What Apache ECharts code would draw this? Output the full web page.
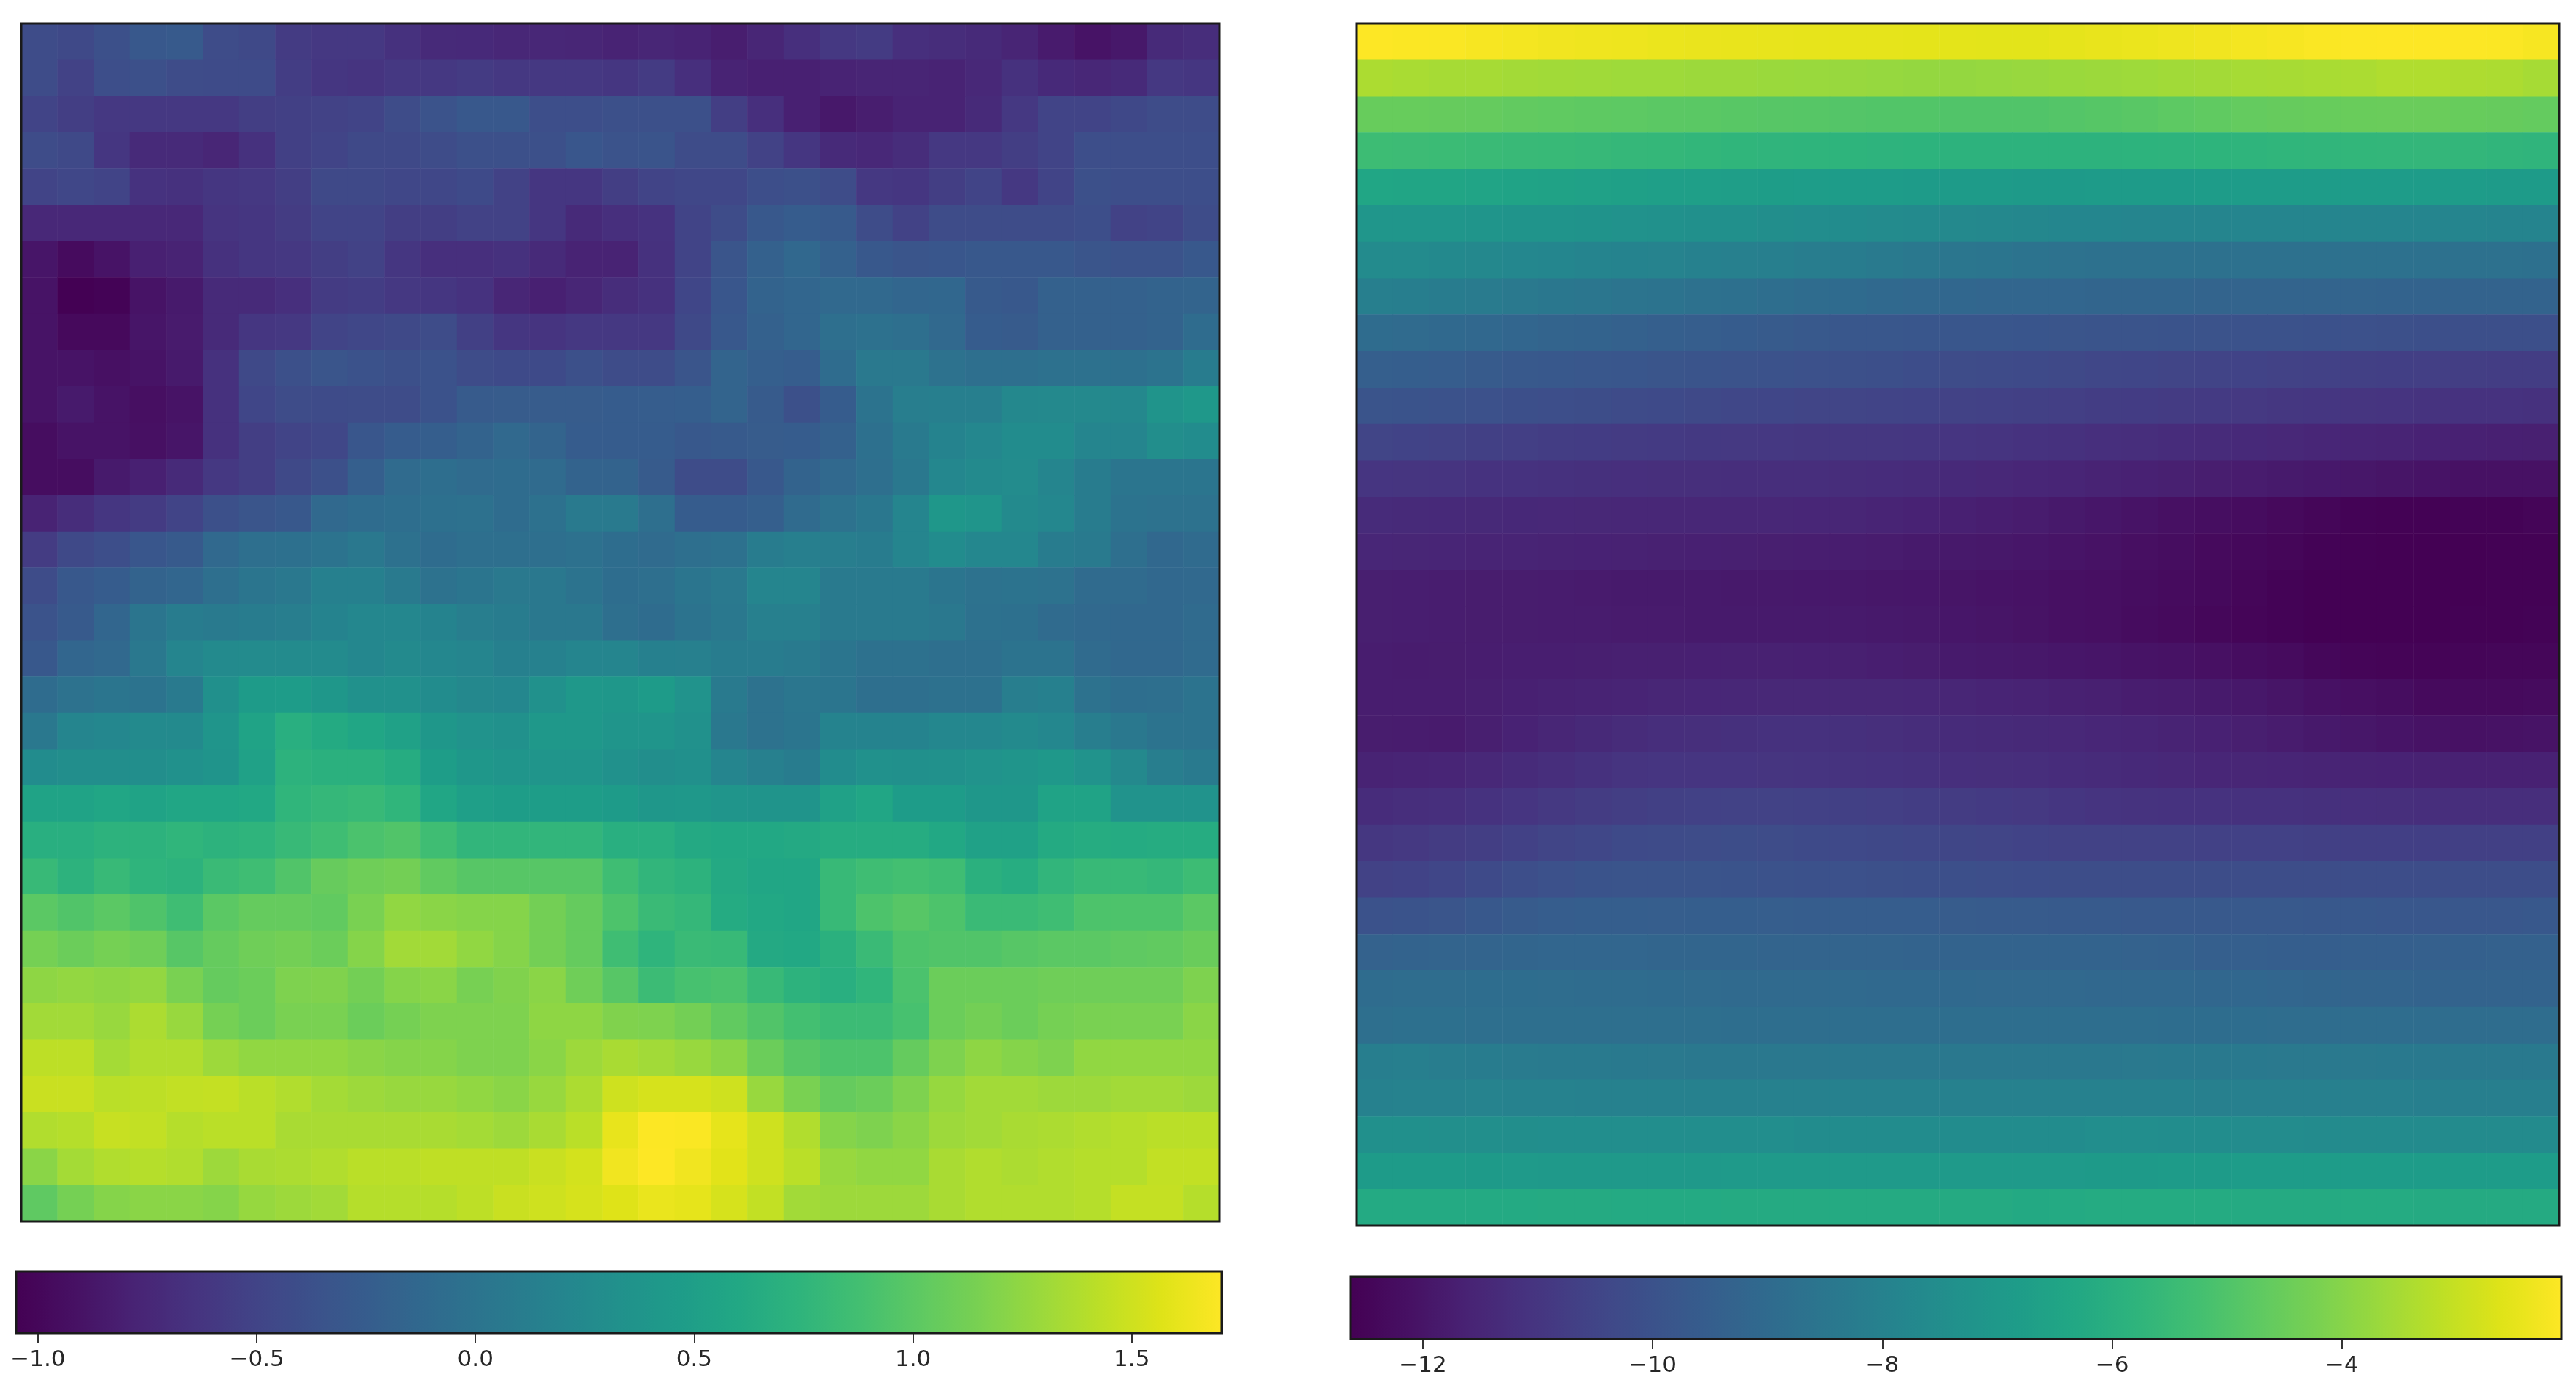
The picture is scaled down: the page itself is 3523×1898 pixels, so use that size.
<!DOCTYPE html>
<html>
<head>
<meta charset="utf-8">
<style>html,body{margin:0;padding:0;background:#fff}#chart{width:3523px;height:1898px}</style>
<script src="https://cdn.jsdelivr.net/npm/echarts@6/dist/echarts.min.js"></script>
</head>
<body>
<div id="chart"></div>
<script>
//===============!left panel, top row first=================
var leftRows = [
[-0.42,-0.45,-0.38,-0.30,-0.28,-0.42,-0.45,-0.58,-0.60,-0.60,-0.66,-0.72,-0.73,-0.75,-0.75,-0.76,-0.78,-0.76,-0.78,-0.82,-0.76,-0.68,-0.60,-0.58,-0.68,-0.70,-0.72,-0.77,-0.84,-0.90,-0.86,-0.72,-0.70],
[-0.42,-0.52,-0.40,-0.38,-0.42,-0.43,-0.43,-0.56,-0.62,-0.64,-0.60,-0.60,-0.58,-0.60,-0.60,-0.60,-0.62,-0.58,-0.68,-0.78,-0.80,-0.80,-0.78,-0.77,-0.77,-0.78,-0.74,-0.66,-0.73,-0.75,-0.72,-0.60,-0.62],
[-0.50,-0.55,-0.60,-0.60,-0.60,-0.60,-0.55,-0.53,-0.52,-0.50,-0.42,-0.35,-0.30,-0.30,-0.40,-0.40,-0.38,-0.38,-0.38,-0.55,-0.68,-0.80,-0.86,-0.82,-0.78,-0.78,-0.72,-0.60,-0.50,-0.50,-0.46,-0.42,-0.42],
[-0.42,-0.45,-0.62,-0.72,-0.72,-0.76,-0.66,-0.53,-0.50,-0.45,-0.45,-0.42,-0.38,-0.38,-0.38,-0.32,-0.35,-0.34,-0.42,-0.42,-0.52,-0.62,-0.72,-0.74,-0.70,-0.60,-0.60,-0.55,-0.50,-0.40,-0.40,-0.40,-0.40],
[-0.50,-0.47,-0.50,-0.65,-0.66,-0.62,-0.60,-0.55,-0.45,-0.45,-0.47,-0.47,-0.44,-0.52,-0.62,-0.62,-0.55,-0.50,-0.47,-0.47,-0.40,-0.38,-0.42,-0.60,-0.62,-0.55,-0.50,-0.60,-0.50,-0.38,-0.40,-0.40,-0.40],
[-0.74,-0.74,-0.74,-0.74,-0.74,-0.64,-0.62,-0.57,-0.50,-0.50,-0.55,-0.55,-0.52,-0.52,-0.62,-0.72,-0.68,-0.65,-0.50,-0.42,-0.30,-0.25,-0.28,-0.42,-0.52,-0.42,-0.42,-0.42,-0.42,-0.40,-0.52,-0.50,-0.42],
[-0.88,-0.96,-0.90,-0.80,-0.78,-0.66,-0.62,-0.60,-0.55,-0.52,-0.62,-0.68,-0.68,-0.66,-0.72,-0.78,-0.78,-0.66,-0.50,-0.33,-0.20,-0.13,-0.20,-0.30,-0.33,-0.32,-0.30,-0.30,-0.30,-0.33,-0.35,-0.35,-0.30],
[-0.90,-1.05,-1.03,-0.90,-0.85,-0.72,-0.72,-0.68,-0.58,-0.56,-0.60,-0.62,-0.65,-0.76,-0.80,-0.76,-0.70,-0.66,-0.48,-0.32,-0.18,-0.15,-0.12,-0.12,-0.15,-0.14,-0.28,-0.30,-0.20,-0.20,-0.20,-0.18,-0.17],
[-0.90,-0.98,-0.98,-0.88,-0.84,-0.72,-0.62,-0.60,-0.50,-0.47,-0.45,-0.42,-0.53,-0.62,-0.64,-0.60,-0.60,-0.60,-0.45,-0.30,-0.20,-0.15,-0.05,-0.03,-0.05,-0.12,-0.25,-0.27,-0.20,-0.20,-0.20,-0.18,-0.08],
[-0.90,-0.90,-0.92,-0.90,-0.85,-0.66,-0.45,-0.38,-0.33,-0.36,-0.38,-0.36,-0.42,-0.44,-0.44,-0.38,-0.42,-0.42,-0.33,-0.17,-0.22,-0.24,-0.08,0.06,0.06,-0.02,-0.05,-0.05,-0.03,-0.03,-0.04,0.00,0.10],
[-0.90,-0.85,-0.90,-0.93,-0.90,-0.66,-0.48,-0.42,-0.43,-0.42,-0.42,-0.36,-0.27,-0.26,-0.26,-0.26,-0.25,-0.24,-0.23,-0.17,-0.27,-0.38,-0.25,0.00,0.12,0.13,0.13,0.23,0.24,0.24,0.23,0.36,0.42],
[-0.95,-0.90,-0.90,-0.92,-0.88,-0.66,-0.55,-0.50,-0.47,-0.32,-0.25,-0.23,-0.18,-0.12,-0.17,-0.25,-0.25,-0.25,-0.30,-0.28,-0.26,-0.25,-0.20,-0.04,0.08,0.18,0.22,0.28,0.28,0.20,0.20,0.30,0.28],
[-0.95,-0.95,-0.85,-0.80,-0.72,-0.60,-0.55,-0.45,-0.38,-0.22,-0.10,-0.06,-0.10,-0.08,-0.10,-0.18,-0.18,-0.27,-0.42,-0.42,-0.30,-0.18,-0.12,-0.05,0.05,0.22,0.25,0.27,0.20,0.10,0.02,0.02,0.02],
[-0.78,-0.70,-0.62,-0.58,-0.50,-0.38,-0.33,-0.30,-0.12,-0.08,-0.06,-0.04,-0.03,-0.08,-0.03,0.08,0.08,-0.05,-0.25,-0.25,-0.22,-0.10,-0.02,0.04,0.20,0.40,0.38,0.25,0.22,0.10,0.00,-0.02,-0.02],
[-0.57,-0.45,-0.40,-0.32,-0.28,-0.12,-0.05,-0.04,0.00,0.05,-0.03,-0.08,-0.05,-0.05,-0.05,-0.03,-0.07,-0.10,-0.05,-0.03,0.10,0.13,0.12,0.10,0.20,0.28,0.22,0.22,0.10,0.08,-0.05,-0.13,-0.10],
[-0.42,-0.30,-0.25,-0.18,-0.15,-0.05,0.02,0.05,0.15,0.15,0.08,-0.02,0.02,0.06,0.05,0.00,-0.07,-0.05,0.02,0.06,0.20,0.20,0.08,0.08,0.08,0.02,-0.02,0.00,-0.02,-0.10,-0.10,-0.13,-0.12],
[-0.35,-0.28,-0.15,0.02,0.10,0.08,0.10,0.12,0.18,0.22,0.22,0.18,0.12,0.10,0.05,0.05,-0.05,-0.08,0.00,0.05,0.14,0.14,0.08,0.08,0.08,0.05,-0.03,-0.04,-0.10,-0.12,-0.13,-0.13,-0.10],
[-0.30,-0.15,-0.12,0.05,0.20,0.25,0.26,0.26,0.26,0.22,0.25,0.22,0.20,0.15,0.16,0.20,0.20,0.15,0.14,0.10,0.10,0.08,0.02,-0.03,-0.03,-0.05,-0.05,0.00,0.00,-0.10,-0.13,-0.13,-0.10],
[-0.08,-0.02,0.02,0.00,0.08,0.32,0.45,0.47,0.40,0.33,0.33,0.28,0.23,0.22,0.33,0.42,0.40,0.45,0.35,0.08,-0.02,0.03,0.02,-0.05,-0.05,-0.03,-0.03,0.12,0.15,-0.02,-0.06,-0.05,0.00],
[0.05,0.20,0.22,0.25,0.25,0.38,0.55,0.68,0.63,0.58,0.52,0.40,0.35,0.33,0.42,0.42,0.38,0.38,0.33,0.05,-0.02,0.02,0.18,0.18,0.18,0.22,0.22,0.25,0.22,0.12,0.05,0.00,0.00],
[0.28,0.30,0.30,0.30,0.33,0.37,0.52,0.72,0.70,0.70,0.65,0.48,0.40,0.38,0.38,0.38,0.33,0.30,0.32,0.20,0.14,0.10,0.28,0.33,0.32,0.33,0.35,0.38,0.42,0.35,0.24,0.12,0.08],
[0.55,0.55,0.58,0.55,0.58,0.58,0.60,0.75,0.78,0.80,0.75,0.58,0.50,0.48,0.48,0.48,0.45,0.40,0.42,0.38,0.36,0.36,0.52,0.58,0.47,0.47,0.40,0.40,0.55,0.55,0.35,0.35,0.35],
[0.68,0.68,0.72,0.72,0.75,0.72,0.74,0.80,0.85,0.92,0.95,0.85,0.76,0.76,0.76,0.76,0.68,0.68,0.62,0.60,0.60,0.62,0.65,0.65,0.65,0.60,0.52,0.52,0.63,0.65,0.64,0.65,0.65],
[0.80,0.72,0.80,0.74,0.72,0.82,0.85,0.95,1.06,1.10,1.12,1.03,0.98,0.98,0.98,0.98,0.85,0.76,0.72,0.62,0.58,0.58,0.80,0.85,0.88,0.85,0.70,0.66,0.76,0.80,0.80,0.78,0.84],
[1.00,0.95,1.00,0.94,0.85,1.00,1.05,1.05,1.03,1.15,1.25,1.22,1.20,1.20,1.12,1.05,0.93,0.82,0.78,0.64,0.60,0.58,0.80,0.93,0.98,0.93,0.82,0.82,0.85,0.93,0.93,0.93,1.00],
[1.13,1.08,1.13,1.10,0.98,1.05,1.10,1.12,1.08,1.20,1.32,1.32,1.25,1.20,1.12,1.05,0.85,0.74,0.82,0.80,0.62,0.60,0.70,0.82,0.93,0.95,0.95,0.98,1.00,1.00,1.02,1.03,1.07],
[1.24,1.26,1.24,1.26,1.15,1.05,1.08,1.17,1.18,1.12,1.20,1.22,1.14,1.18,1.22,1.10,0.98,0.83,0.90,0.92,0.80,0.72,0.68,0.75,0.92,1.08,1.08,1.08,1.10,1.10,1.10,1.10,1.17],
[1.32,1.32,1.28,1.36,1.28,1.13,1.08,1.15,1.15,1.08,1.13,1.17,1.17,1.17,1.24,1.24,1.18,1.17,1.12,1.03,0.95,0.88,0.83,0.83,0.90,1.08,1.12,1.08,1.13,1.15,1.15,1.15,1.22],
[1.43,1.43,1.33,1.38,1.38,1.30,1.25,1.25,1.25,1.22,1.20,1.20,1.17,1.17,1.22,1.30,1.35,1.32,1.28,1.22,1.08,0.98,0.93,0.93,1.05,1.17,1.24,1.20,1.17,1.25,1.25,1.25,1.25],
[1.48,1.48,1.42,1.43,1.45,1.46,1.42,1.38,1.33,1.30,1.28,1.28,1.25,1.22,1.28,1.36,1.50,1.53,1.53,1.50,1.28,1.15,1.05,1.08,1.17,1.27,1.32,1.32,1.30,1.30,1.32,1.32,1.30],
[1.38,1.40,1.47,1.45,1.40,1.42,1.42,1.35,1.35,1.35,1.35,1.35,1.33,1.30,1.35,1.42,1.61,1.70,1.69,1.60,1.50,1.38,1.20,1.17,1.22,1.30,1.32,1.35,1.36,1.38,1.40,1.42,1.42],
[1.22,1.33,1.38,1.40,1.38,1.30,1.35,1.36,1.38,1.42,1.42,1.44,1.44,1.44,1.48,1.52,1.65,1.71,1.65,1.58,1.50,1.42,1.28,1.25,1.25,1.35,1.38,1.36,1.38,1.40,1.40,1.45,1.45],
[1.02,1.13,1.20,1.22,1.22,1.20,1.27,1.30,1.32,1.40,1.40,1.40,1.43,1.48,1.50,1.53,1.57,1.62,1.60,1.53,1.45,1.32,1.30,1.30,1.30,1.35,1.38,1.38,1.38,1.40,1.46,1.46,1.40]
];
//===============!right panel, top row first=================
var rightRows = [
[-2.09,-2.12,-2.15,-2.20,-2.25,-2.30,-2.33,-2.36,-2.40,-2.42,-2.44,-2.46,-2.48,-2.50,-2.50,-2.52,-2.53,-2.55,-2.54,-2.50,-2.45,-2.40,-2.35,-2.30,-2.25,-2.20,-2.15,-2.10,-2.09,-2.09,-2.10,-2.12,-2.20],
[-3.40,-3.45,-3.50,-3.50,-3.55,-3.58,-3.60,-3.62,-3.62,-3.65,-3.65,-3.68,-3.70,-3.72,-3.75,-3.78,-3.78,-3.75,-3.72,-3.68,-3.65,-3.62,-3.58,-3.55,-3.50,-3.48,-3.45,-3.42,-3.35,-3.35,-3.38,-3.40,-3.50],
[-4.55,-4.55,-4.58,-4.60,-4.65,-4.68,-4.72,-4.75,-4.78,-4.80,-4.84,-4.86,-4.88,-4.92,-4.95,-4.95,-4.97,-4.98,-4.98,-4.92,-4.88,-4.82,-4.75,-4.68,-4.62,-4.58,-4.55,-4.52,-4.50,-4.50,-4.55,-4.58,-4.62],
[-5.40,-5.42,-5.45,-5.48,-5.52,-5.55,-5.58,-5.62,-5.65,-5.70,-5.74,-5.76,-5.78,-5.80,-5.82,-5.84,-5.85,-5.86,-5.86,-5.86,-5.85,-5.84,-5.82,-5.80,-5.78,-5.75,-5.72,-5.70,-5.68,-5.66,-5.68,-5.72,-5.76],
[-6.40,-6.42,-6.45,-6.48,-6.52,-6.55,-6.60,-6.65,-6.68,-6.72,-6.75,-6.78,-6.80,-6.82,-6.85,-6.86,-6.88,-6.90,-6.92,-6.92,-6.90,-6.88,-6.86,-6.85,-6.85,-6.85,-6.85,-6.85,-6.85,-6.85,-6.85,-6.87,-6.90],
[-7.10,-7.10,-7.12,-7.15,-7.20,-7.22,-7.25,-7.30,-7.35,-7.40,-7.42,-7.48,-7.52,-7.55,-7.60,-7.65,-7.70,-7.72,-7.75,-7.80,-7.82,-7.85,-7.85,-7.85,-7.85,-7.85,-7.85,-7.85,-7.85,-7.85,-7.85,-7.88,-7.90],
[-7.60,-7.62,-7.68,-7.72,-7.78,-7.82,-7.88,-7.92,-7.95,-8.00,-8.05,-8.12,-8.18,-8.25,-8.32,-8.40,-8.48,-8.55,-8.62,-8.68,-8.72,-8.73,-8.73,-8.73,-8.73,-8.73,-8.73,-8.73,-8.73,-8.73,-8.73,-8.73,-8.75],
[-8.10,-8.15,-8.22,-8.30,-8.38,-8.45,-8.50,-8.58,-8.65,-8.72,-8.78,-8.85,-8.92,-8.98,-9.05,-9.10,-9.14,-9.18,-9.20,-9.20,-9.22,-9.22,-9.22,-9.25,-9.25,-9.28,-9.28,-9.28,-9.30,-9.30,-9.30,-9.30,-9.30],
[-8.94,-9.00,-9.05,-9.12,-9.18,-9.25,-9.30,-9.38,-9.45,-9.52,-9.58,-9.65,-9.72,-9.78,-9.80,-9.82,-9.82,-9.84,-9.86,-9.88,-9.90,-9.92,-9.94,-9.96,-9.98,-10.00,-10.02,-10.05,-10.08,-10.10,-10.10,-10.10,-10.12],
[-9.47,-9.50,-9.55,-9.62,-9.70,-9.75,-9.80,-9.84,-9.88,-9.92,-9.96,-10.00,-10.04,-10.08,-10.12,-10.18,-10.22,-10.26,-10.30,-10.35,-10.40,-10.45,-10.48,-10.52,-10.55,-10.60,-10.62,-10.65,-10.68,-10.70,-10.72,-10.74,-10.75],
[-9.90,-9.95,-10.00,-10.05,-10.10,-10.15,-10.20,-10.25,-10.30,-10.35,-10.40,-10.45,-10.48,-10.50,-10.52,-10.55,-10.58,-10.62,-10.66,-10.70,-10.74,-10.78,-10.82,-10.86,-10.90,-10.94,-10.98,-11.02,-11.05,-11.08,-11.10,-11.12,-11.15],
[-10.50,-10.55,-10.60,-10.65,-10.70,-10.75,-10.78,-10.82,-10.85,-10.88,-10.90,-10.92,-10.94,-10.95,-10.96,-10.98,-11.00,-11.05,-11.10,-11.15,-11.20,-11.25,-11.30,-11.35,-11.40,-11.45,-11.50,-11.55,-11.58,-11.62,-11.65,-11.68,-11.70],
[-11.00,-11.02,-11.05,-11.10,-11.12,-11.15,-11.18,-11.20,-11.22,-11.23,-11.24,-11.25,-11.25,-11.28,-11.30,-11.35,-11.40,-11.45,-11.50,-11.55,-11.60,-11.65,-11.70,-11.75,-11.80,-11.85,-11.90,-11.95,-12.00,-12.05,-12.10,-12.10,-12.10],
[-11.35,-11.38,-11.40,-11.42,-11.44,-11.45,-11.46,-11.47,-11.48,-11.48,-11.48,-11.48,-11.50,-11.52,-11.56,-11.62,-11.68,-11.74,-11.80,-11.88,-11.96,-12.05,-12.12,-12.20,-12.28,-12.36,-12.45,-12.55,-12.60,-12.60,-12.58,-12.55,-12.50],
[-11.50,-11.52,-11.54,-11.56,-11.58,-11.60,-11.62,-11.64,-11.66,-11.68,-11.70,-11.72,-11.74,-11.76,-11.80,-11.84,-11.88,-11.92,-11.96,-12.02,-12.08,-12.16,-12.24,-12.32,-12.40,-12.48,-12.55,-12.60,-12.62,-12.63,-12.62,-12.60,-12.60],
[-11.72,-11.74,-11.76,-11.78,-11.78,-11.80,-11.82,-11.84,-11.86,-11.86,-11.88,-11.88,-11.90,-11.92,-11.94,-11.96,-12.00,-12.04,-12.08,-12.12,-12.16,-12.22,-12.30,-12.38,-12.46,-12.55,-12.62,-12.63,-12.63,-12.63,-12.62,-12.60,-12.60],
[-11.72,-11.74,-11.76,-11.78,-11.78,-11.80,-11.80,-11.82,-11.82,-11.84,-11.84,-11.84,-11.85,-11.86,-11.88,-11.92,-11.96,-12.00,-12.06,-12.12,-12.18,-12.26,-12.34,-12.42,-12.50,-12.58,-12.62,-12.63,-12.63,-12.62,-12.60,-12.60,-12.58],
[-11.76,-11.80,-11.78,-11.76,-11.74,-11.74,-11.72,-11.70,-11.70,-11.68,-11.66,-11.66,-11.68,-11.70,-11.74,-11.78,-11.84,-11.88,-11.92,-11.96,-11.98,-12.04,-12.08,-12.14,-12.22,-12.30,-12.42,-12.50,-12.52,-12.52,-12.50,-12.48,-12.45],
[-11.76,-11.76,-11.76,-11.72,-11.68,-11.64,-11.60,-11.56,-11.52,-11.50,-11.48,-11.46,-11.46,-11.46,-11.46,-11.48,-11.52,-11.56,-11.60,-11.66,-11.70,-11.76,-11.80,-11.86,-11.92,-12.00,-12.10,-12.18,-12.25,-12.32,-12.35,-12.35,-12.30],
[-11.78,-11.80,-11.82,-11.72,-11.62,-11.52,-11.42,-11.32,-11.26,-11.22,-11.18,-11.16,-11.16,-11.18,-11.22,-11.28,-11.34,-11.38,-11.42,-11.45,-11.50,-11.55,-11.60,-11.65,-11.72,-11.80,-11.88,-11.95,-12.02,-12.08,-12.10,-12.08,-12.05],
[-11.60,-11.58,-11.55,-11.45,-11.35,-11.25,-11.15,-11.05,-11.00,-11.00,-11.00,-11.02,-11.05,-11.08,-11.10,-11.15,-11.20,-11.22,-11.25,-11.30,-11.35,-11.40,-11.45,-11.50,-11.52,-11.55,-11.58,-11.60,-11.62,-11.64,-11.65,-11.65,-11.65],
[-11.30,-11.25,-11.20,-11.10,-11.00,-10.90,-10.80,-10.72,-10.65,-10.62,-10.60,-10.60,-10.62,-10.66,-10.70,-10.75,-10.80,-10.85,-10.90,-10.98,-11.05,-11.08,-11.10,-11.12,-11.14,-11.15,-11.18,-11.20,-11.22,-11.24,-11.25,-11.25,-11.25],
[-10.95,-10.90,-10.80,-10.72,-10.62,-10.50,-10.40,-10.30,-10.25,-10.22,-10.20,-10.22,-10.28,-10.32,-10.36,-10.42,-10.46,-10.50,-10.55,-10.58,-10.60,-10.60,-10.60,-10.62,-10.62,-10.62,-10.65,-10.68,-10.68,-10.68,-10.66,-10.65,-10.65],
[-10.60,-10.55,-10.45,-10.30,-10.15,-10.05,-9.95,-9.90,-9.90,-9.92,-9.95,-10.00,-10.02,-10.05,-10.08,-10.10,-10.12,-10.15,-10.18,-10.20,-10.20,-10.20,-10.20,-10.20,-10.20,-10.20,-10.20,-10.20,-10.20,-10.20,-10.20,-10.20,-10.20],
[-10.00,-9.95,-9.88,-9.75,-9.65,-9.55,-9.50,-9.50,-9.52,-9.50,-9.50,-9.52,-9.55,-9.56,-9.56,-9.56,-9.60,-9.62,-9.64,-9.66,-9.68,-9.70,-9.70,-9.72,-9.72,-9.72,-9.74,-9.75,-9.78,-9.80,-9.80,-9.80,-9.75],
[-9.35,-9.30,-9.28,-9.25,-9.22,-9.20,-9.20,-9.20,-9.22,-9.22,-9.24,-9.25,-9.26,-9.28,-9.28,-9.30,-9.30,-9.30,-9.30,-9.30,-9.32,-9.35,-9.38,-9.45,-9.48,-9.50,-9.50,-9.48,-9.46,-9.44,-9.42,-9.40,-9.40],
[-8.95,-8.90,-8.90,-8.88,-8.88,-8.90,-8.92,-8.95,-8.98,-9.00,-9.02,-9.02,-9.04,-9.04,-9.05,-9.05,-9.06,-9.08,-9.08,-9.08,-9.10,-9.10,-9.12,-9.14,-9.16,-9.20,-9.22,-9.26,-9.28,-9.30,-9.30,-9.30,-9.30],
[-8.80,-8.78,-8.78,-8.80,-8.80,-8.80,-8.80,-8.82,-8.82,-8.82,-8.84,-8.84,-8.84,-8.85,-8.85,-8.85,-8.85,-8.85,-8.86,-8.86,-8.86,-8.86,-8.88,-8.88,-8.88,-8.90,-8.90,-8.90,-8.90,-8.90,-8.90,-8.90,-8.90],
[-8.15,-8.12,-8.18,-8.22,-8.28,-8.32,-8.34,-8.36,-8.38,-8.40,-8.40,-8.40,-8.40,-8.40,-8.40,-8.40,-8.40,-8.40,-8.40,-8.40,-8.40,-8.38,-8.36,-8.36,-8.36,-8.38,-8.38,-8.38,-8.36,-8.35,-8.35,-8.35,-8.35],
[-8.00,-7.98,-7.96,-7.94,-7.96,-7.98,-8.00,-8.00,-8.00,-8.00,-8.00,-8.00,-8.02,-8.02,-8.02,-8.02,-8.02,-8.02,-8.02,-8.02,-8.04,-8.04,-8.04,-8.05,-8.05,-8.06,-8.06,-8.08,-8.08,-8.10,-8.10,-8.10,-8.10],
[-7.40,-7.42,-7.44,-7.46,-7.48,-7.50,-7.50,-7.50,-7.50,-7.50,-7.50,-7.50,-7.55,-7.55,-7.55,-7.55,-7.55,-7.55,-7.55,-7.55,-7.50,-7.50,-7.52,-7.54,-7.56,-7.58,-7.60,-7.60,-7.60,-7.60,-7.60,-7.60,-7.60],
[-6.90,-6.88,-6.90,-6.92,-6.95,-6.96,-6.98,-6.98,-6.98,-6.96,-6.95,-6.95,-6.95,-6.95,-6.94,-6.94,-6.94,-6.94,-6.94,-6.94,-6.92,-6.92,-6.88,-6.86,-6.85,-6.85,-6.85,-6.85,-6.85,-6.85,-6.85,-6.85,-6.85],
[-6.22,-6.22,-6.22,-6.22,-6.22,-6.20,-6.20,-6.22,-6.22,-6.22,-6.20,-6.20,-6.20,-6.20,-6.20,-6.20,-6.20,-6.20,-6.25,-6.22,-6.18,-6.18,-6.18,-6.18,-6.20,-6.20,-6.20,-6.18,-6.18,-6.20,-6.20,-6.20,-6.20]
];
var leftRange = [-1.05, 1.706];
var rightRange = [-12.63, -2.09];
var leftTicks = [-1, -0.5, 0, 0.5, 1, 1.5];
var rightTicks = [-12, -10, -8, -6, -4];
var viridis = ['#440154','#471164','#482475','#463480','#414487','#3b528b','#355f8d','#2f6c8e','#2a788e','#25848e','#21918c','#1e9c89','#22a884','#2fb47c','#43bf71','#5ec962','#7ad151','#9bd93c','#bddf26','#dfe318','#fde725'];

function toCells(rows) {
    var out = [];
    for (var r = 0; r < rows.length; r++) {
        for (var c = 0; c < rows[r].length; c++) {
            out.push([c, r, rows[r][c]]);
        }
    }
    return out;
}
function indexList(n) {
    var arr = [];
    for (var i = 0; i < n; i++) arr.push(String(i));
    return arr;
}
function minusLabel(v) {
    return String(v).replace('-', '\u2212');
}

var cells = indexList(33);
var frame = { show: true, z: 10, backgroundColor: 'transparent', borderColor: '#1a1a1a', borderWidth: 3 };
function panelGrid(left, top, w, h) {
    return Object.assign({ left: left, top: top, width: w, height: h }, frame);
}
function barAxis(idx, range, ticks, dec) {
    return {
        type: 'value', gridIndex: idx, min: range[0], max: range[1],
        axisLine: { show: false },
        splitLine: { show: false },
        axisTick: { show: true, customValues: ticks, length: 13, lineStyle: { color: '#333', width: 2 } },
        axisLabel: {
            show: true, customValues: ticks, margin: 21, color: '#262626',
            fontFamily: 'DejaVu Sans', fontSize: 31,
            formatter: function (v) { return minusLabel(v.toFixed(dec)); }
        }
    };
}
function hiddenAxis(idx) {
    return { type: 'value', gridIndex: idx, min: 0, max: 1, show: false };
}
function cellAxis(idx, inverse) {
    return { type: 'category', gridIndex: idx, data: cells, show: false, inverse: inverse };
}

var option = {
    backgroundColor: '#fff',
    animation: false,
    grid: [
        panelGrid(29, 32, 1639, 1638),
        panelGrid(1855, 32, 1645, 1644),
        panelGrid(22, 1739, 1649, 84),
        panelGrid(1847, 1746, 1656, 85)
    ],
    xAxis: [cellAxis(0, false), cellAxis(1, false), barAxis(2, leftRange, leftTicks, 1), barAxis(3, rightRange, rightTicks, 0)],
    yAxis: [cellAxis(0, true), cellAxis(1, true), hiddenAxis(2), hiddenAxis(3)],
    visualMap: [
        {
            type: 'continuous', seriesIndex: 0, min: leftRange[0], max: leftRange[1],
            orient: 'horizontal', left: 22, top: 1739, itemWidth: 84, itemHeight: 1649, padding: 0,
            calculable: false, realtime: false, text: null, inRange: { color: viridis }
        },
        {
            type: 'continuous', seriesIndex: 1, min: rightRange[0], max: rightRange[1],
            orient: 'horizontal', left: 1847, top: 1746, itemWidth: 85, itemHeight: 1656, padding: 0,
            calculable: false, realtime: false, text: null, inRange: { color: viridis }
        }
    ],
    series: [
        { type: 'heatmap', xAxisIndex: 0, yAxisIndex: 0, data: toCells(leftRows), progressive: 0, emphasis: { disabled: true } },
        { type: 'heatmap', xAxisIndex: 1, yAxisIndex: 1, data: toCells(rightRows), progressive: 0, emphasis: { disabled: true } }
    ]
};
var myChart = echarts.init(document.getElementById('chart'), null, { renderer: 'canvas' });
myChart.setOption(option);
</script>
</body>
</html>
